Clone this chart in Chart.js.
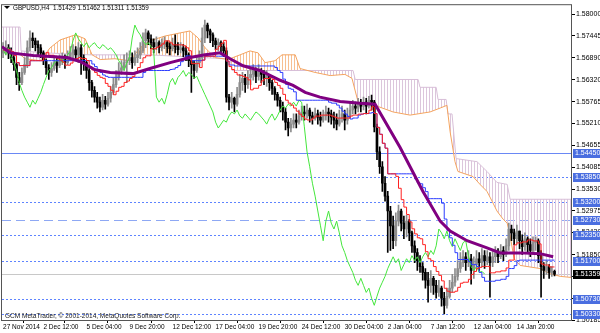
<!DOCTYPE html>
<html>
<head>
<meta charset="utf-8">
<script src="https://cdn.jsdelivr.net/npm/chart.js@4.4.0/dist/chart.umd.min.js"></script>
<style>
  html, body { margin: 0; padding: 0; background: #fff; }
  canvas { display: block; }
</style>
</head>
<body>
<canvas id="chart" width="600" height="333"></canvas>
<script>
// GBPUSD H4 bars, 27 Nov 2014 .. 15 Jan 2015
const firstOpen = 1.5700;
const closes = [
  1.5706,1.5714,1.5701,1.5689,1.5671,1.5638,1.5625,1.5651,1.5671,1.5714,
  1.5739,1.5732,1.5722,1.5714,1.5701,1.5681,1.5663,1.5651,1.5661,1.5676,
  1.5669,1.5681,1.5689,1.5676,1.5691,1.5701,1.5709,1.5696,1.5714,1.5689,
  1.5676,1.5656,1.5625,1.5605,1.5588,1.5575,1.5562,1.5580,1.5570,1.5585,
  1.5600,1.5620,1.5638,1.5656,1.5663,1.5676,1.5681,1.5689,1.5676,1.5689,
  1.5696,1.5706,1.5732,1.5752,1.5737,1.5727,1.5717,1.5727,1.5714,1.5722,
  1.5727,1.5717,1.5712,1.5722,1.5717,1.5709,1.5714,1.5706,1.5696,1.5681,
  1.5671,1.5656,1.5676,1.5689,1.5739,1.5772,1.5757,1.5747,1.5732,1.5722,
  1.5727,1.5717,1.5706,1.5588,1.5575,1.5585,1.5570,1.5595,1.5625,1.5636,
  1.5620,1.5638,1.5646,1.5656,1.5641,1.5651,1.5646,1.5636,1.5641,1.5625,
  1.5610,1.5595,1.5580,1.5565,1.5550,1.5524,1.5509,1.5519,1.5529,1.5524,
  1.5540,1.5550,1.5545,1.5555,1.5540,1.5534,1.5545,1.5537,1.5529,1.5540,
  1.5550,1.5545,1.5537,1.5529,1.5519,1.5534,1.5545,1.5529,1.5540,1.5555,
  1.5565,1.5560,1.5570,1.5565,1.5575,1.5565,1.5580,1.5575,1.5512,1.5448,
  1.5410,1.5368,1.5335,1.5297,1.5259,1.5221,1.5271,1.5297,1.5266,1.5251,
  1.5271,1.5241,1.5208,1.5191,1.5170,1.5155,1.5140,1.5120,1.5107,1.5125,
  1.5107,1.5089,1.5100,1.5074,1.5056,1.5079,1.5100,1.5115,1.5130,1.5150,
  1.5165,1.5180,1.5165,1.5175,1.5145,1.5160,1.5175,1.5165,1.5183,1.5170,
  1.5180,1.5165,1.5180,1.5191,1.5180,1.5196,1.5186,1.5208,1.5251,1.5241,
  1.5226,1.5246,1.5221,1.5206,1.5226,1.5211,1.5196,1.5216,1.5221,1.5183,
  1.5155,1.5145,1.5155,1.5140,1.51429,1.51359
];
const highs = [
  1.5727,1.5732,1.5722,1.5714,1.5696,1.5676,1.5651,1.5663,1.5689,1.5732,
  1.5757,1.5752,1.5739,1.5732,1.5722,1.5706,1.5686,1.5671,1.5676,1.5689,
  1.5689,1.5696,1.5701,1.5696,1.5706,1.5717,1.5722,1.5717,1.5727,1.5722,
  1.5696,1.5681,1.5661,1.5631,1.5615,1.5600,1.5588,1.5595,1.5590,1.5600,
  1.5615,1.5638,1.5656,1.5676,1.5681,1.5696,1.5701,1.5706,1.5701,1.5706,
  1.5714,1.5727,1.5752,1.5762,1.5757,1.5747,1.5737,1.5742,1.5732,1.5737,
  1.5742,1.5732,1.5727,1.5739,1.5747,1.5727,1.5727,1.5722,1.5717,1.5701,
  1.5689,1.5681,1.5691,1.5706,1.5765,1.5785,1.5777,1.5762,1.5752,1.5739,
  1.5737,1.5732,1.5727,1.5714,1.5595,1.5600,1.5588,1.5613,1.5646,1.5651,
  1.5646,1.5656,1.5663,1.5671,1.5663,1.5671,1.5661,1.5656,1.5656,1.5646,
  1.5631,1.5615,1.5600,1.5588,1.5575,1.5560,1.5534,1.5534,1.5545,1.5545,
  1.5555,1.5565,1.5565,1.5570,1.5560,1.5550,1.5560,1.5555,1.5550,1.5555,
  1.5565,1.5560,1.5555,1.5550,1.5545,1.5555,1.5565,1.5555,1.5560,1.5575,
  1.5580,1.5575,1.5585,1.5582,1.5588,1.5585,1.5590,1.5593,1.5580,1.5519,
  1.5461,1.5423,1.5385,1.5347,1.5309,1.5284,1.5292,1.5312,1.5302,1.5284,
  1.5286,1.5276,1.5246,1.5221,1.5201,1.5183,1.5165,1.5150,1.5140,1.5145,
  1.5130,1.5120,1.5120,1.5105,1.5089,1.5100,1.5120,1.5135,1.5150,1.5170,
  1.5191,1.5196,1.5191,1.5196,1.5186,1.5180,1.5196,1.5191,1.5201,1.5196,
  1.5196,1.5191,1.5196,1.5206,1.5201,1.5211,1.5206,1.5226,1.5266,1.5261,
  1.5251,1.5261,1.5246,1.5236,1.5241,1.5231,1.5226,1.5231,1.5231,1.5226,
  1.5196,1.5165,1.5170,1.5160,1.5155,1.51462
];
const lows = [
  1.5689,1.5696,1.5686,1.5676,1.5656,1.5620,1.5605,1.5620,1.5646,1.5663,
  1.5706,1.5714,1.5706,1.5696,1.5689,1.5671,1.5646,1.5633,1.5641,1.5656,
  1.5651,1.5663,1.5671,1.5661,1.5671,1.5681,1.5689,1.5681,1.5676,1.5646,
  1.5656,1.5636,1.5605,1.5588,1.5575,1.5560,1.5550,1.5555,1.5557,1.5565,
  1.5575,1.5595,1.5613,1.5631,1.5646,1.5656,1.5625,1.5671,1.5661,1.5669,
  1.5676,1.5686,1.5701,1.5714,1.5722,1.5712,1.5701,1.5709,1.5701,1.5706,
  1.5712,1.5701,1.5696,1.5706,1.5701,1.5696,1.5701,1.5691,1.5681,1.5666,
  1.5600,1.5636,1.5651,1.5666,1.5681,1.5727,1.5739,1.5727,1.5717,1.5709,
  1.5706,1.5701,1.5691,1.5575,1.5555,1.5560,1.5550,1.5565,1.5588,1.5605,
  1.5600,1.5610,1.5620,1.5631,1.5625,1.5631,1.5625,1.5620,1.5615,1.5605,
  1.5595,1.5580,1.5565,1.5550,1.5529,1.5504,1.5489,1.5499,1.5509,1.5509,
  1.5519,1.5529,1.5529,1.5534,1.5524,1.5519,1.5529,1.5519,1.5514,1.5524,
  1.5529,1.5524,1.5519,1.5509,1.5504,1.5514,1.5524,1.5504,1.5519,1.5534,
  1.5545,1.5545,1.5550,1.5550,1.5555,1.5545,1.5560,1.5555,1.5499,1.5428,
  1.5393,1.5347,1.5322,1.5191,1.5196,1.5201,1.5208,1.5259,1.5246,1.5226,
  1.5231,1.5221,1.5191,1.5165,1.5145,1.5140,1.5120,1.5100,1.5064,1.5089,
  1.5084,1.5074,1.5079,1.5054,1.5034,1.5049,1.5074,1.5089,1.5105,1.5120,
  1.5140,1.5155,1.5145,1.5155,1.5110,1.5125,1.5150,1.5145,1.5155,1.5150,
  1.5160,1.5077,1.5155,1.5165,1.5165,1.5175,1.5170,1.5180,1.5196,1.5221,
  1.5211,1.5216,1.5201,1.5186,1.5196,1.5191,1.5180,1.5186,1.5196,1.5165,
  1.5077,1.5125,1.5135,1.5125,1.5130,1.51311
];

// cloud borders and the moving average, [bar, price] as seen on the chart
const senkouA = [
  [-0.4,1.5706],[5.6,1.5701],[8.2,1.5686],[13.8,1.5681],[17.5,1.5714],[21.2,1.5734],
  [26.8,1.5747],[30.5,1.5737],[33.1,1.5696],[36.1,1.5684],[41.6,1.5686],[47.2,1.5681],
  [50.9,1.5714],[54.6,1.5732],[60.2,1.5744],[65.8,1.5752],[69.5,1.5757],[72.5,1.5739],
  [75.1,1.5714],[78.8,1.5689],[83.6,1.5684],[88.1,1.5696],[91.8,1.5706],[94.8,1.5701],
  [97.4,1.5676],[101.1,1.5681],[103.7,1.5696],[108.6,1.5696],[110.4,1.5661],[116,1.5651],
  [121.6,1.5643],[127.1,1.5646],[129.7,1.5636],[132,1.5575],[139,1.5565],[145,1.5550],
  [151.3,1.5542],[158.7,1.5550],[162.5,1.5560],[165,1.5567],[166.2,1.5499],[168,1.5423],
  [169.1,1.5398],[174.7,1.5385],[177.3,1.5365],[179.9,1.5347],[181.8,1.5322],[183.6,1.5297],
  [185.9,1.5276],[187.4,1.5266],[188.5,1.5233],[190,1.5175],[192.2,1.5158],[199.6,1.5150],
  [203.3,1.5137],[207.1,1.5130],[211.5,1.5127]
];
const senkouB = [
  [-0.4,1.5767],[6.3,1.5767],[6.7,1.5706],[15.6,1.5701],[32.3,1.5696],[54.6,1.5696],
  [73.2,1.5689],[84.4,1.5686],[85.1,1.5656],[130.1,1.5656],[130.9,1.5633],[154.3,1.5633],
  [155,1.5613],[161,1.5613],[161.7,1.5582],[164.7,1.5582],[165.4,1.5545],[166.9,1.5545],
  [168.4,1.5431],[176.2,1.5423],[179.9,1.5398],[183.6,1.5370],[187.4,1.5365],[188.5,1.5327],
  [211.5,1.5327]
];
const maLine = [
  [-0.4,1.5717],[2.6,1.5701],[11.2,1.5694],[23.8,1.5689],[28.6,1.5679],[34.2,1.5658],
  [39.8,1.5651],[48.3,1.5648],[54.6,1.5661],[62.1,1.5676],[69.5,1.5689],[75.1,1.5696],
  [80.7,1.5701],[84.4,1.5686],[89.2,1.5668],[95.5,1.5656],[103,1.5631],[107.8,1.5618],
  [112.3,1.5600],[117.8,1.5588],[125.3,1.5577],[132.7,1.5572],[138.3,1.5570],[147.6,1.5459],
  [156.1,1.5347],[162.5,1.5271],[166.2,1.5246],[172.5,1.5221],[179.9,1.5203],[184.8,1.5190],
  [192.2,1.5190],[199.6,1.5188],[204.5,1.5180]
];

const timeTickBars = [0, 15, 31, 47, 63, 79, 95, 111, 127, 143, 159, 175, 191];
const timeLabels = ['27 Nov 2014', '2 Dec 12:00', '5 Dec 04:00', '9 Dec 20:00', '12 Dec 12:00',
  '17 Dec 04:00', '19 Dec 20:00', '24 Dec 12:00', '30 Dec 04:00', '2 Jan 04:00',
  '7 Jan 12:00', '12 Jan 04:00', '14 Jan 20:00'];
const priceTicks = [1.58000, 1.57445, 1.56890, 1.56320, 1.55765, 1.55210, 1.54655, 1.54085,
  1.53530, 1.52975, 1.52420, 1.51850, 1.51295, 1.50740, 1.50185];

const levelSolid = [1.54450];
const levelDotted = [1.53850, 1.53200, 1.52350, 1.51700, 1.50730, 1.50330];
const levelDashed = [1.52730];
const bidPrice = 1.51359;
const header = 'GBPUSD,H4  1.51429 1.51462 1.51311 1.51359';
const copyright = 'GCM MetaTrader, \u00a9 2001-2014, MetaQuotes Software Corp.';

const opens = closes.map((c, i) => i === 0 ? firstOpen : closes[i - 1]);
const BULL = '#8c8c8c', BEAR = '#000000';
const candleColor = closes.map((c, i) => c >= opens[i] ? BULL : BEAR);

function midline(period) {
  return closes.map((c, i) => {
    const from = Math.max(0, i - period + 1);
    const hh = Math.max(...highs.slice(from, i + 1));
    const ll = Math.min(...lows.slice(from, i + 1));
    return { x: i, y: (hh + ll) / 2 };
  });
}
const tenkan = midline(9);
const kijun = midline(26);
const chikou = closes.slice(26).map((c, i) => ({ x: i, y: c }));
const pts = arr => arr.map(p => ({ x: p[0], y: p[1] }));

function hatch(color) {
  const c = document.createElement('canvas');
  c.width = 3; c.height = 1;
  const g = c.getContext('2d');
  g.fillStyle = color;
  g.fillRect(0, 0, 1, 1);
  return g.createPattern(c, 'repeat');
}

const FONT = 'Liberation Sans';
Chart.defaults.font.family = FONT;
Chart.defaults.font.size = 7;
Chart.defaults.color = '#000';

const decor = {
  id: 'decor',
  beforeDatasetsDraw(chart) {
    const { ctx, chartArea: a, scales: { y } } = chart;
    ctx.save();
    // on/off lengths in pixels, drawn as crisp 1px rectangles
    const hline = (v, color, on, off) => {
      const py = Math.round(y.getPixelForValue(v));
      ctx.fillStyle = color;
      for (let x = a.left; x < a.right; x += on + off) {
        ctx.fillRect(x, py, Math.min(on, a.right - x), 1);
      }
    };
    const W = a.right - a.left;
    hline(bidPrice, '#c8c8c8', W, 0);
    levelSolid.forEach(v => hline(v, '#6a88f5', W, 0));
    levelDotted.forEach(v => hline(v, '#5f84ff', 2, 2));
    levelDashed.forEach(v => hline(v, '#8ea8f4', 9, 5));
    ctx.restore();
  },
  afterDraw(chart) {
    const { ctx, chartArea: a, scales: { y } } = chart;
    ctx.save();
    ctx.strokeStyle = '#555';
    ctx.lineWidth = 1;
    ctx.setLineDash([]);
    ctx.strokeRect(a.left - 0.5, a.top - 0.5, a.right - a.left, a.bottom - a.top + 1);

    ctx.font = '7px "' + FONT + '"';
    ctx.textBaseline = 'middle';
    const box = (v, fill) => {
      const py = Math.round(y.getPixelForValue(v));
      ctx.fillStyle = fill;
      ctx.fillRect(a.right + 1, py - 4, 600 - a.right - 1, 9);
      ctx.fillStyle = '#fff';
      ctx.fillText(v.toFixed(5), a.right + 3, py + 0.5);
    };
    [...levelSolid, ...levelDotted, ...levelDashed].forEach(v => box(v, '#4a6ee0'));
    box(bidPrice, '#000');

    ctx.fillStyle = '#000';
    ctx.beginPath();
    ctx.moveTo(4, 6); ctx.lineTo(10, 6); ctx.lineTo(7, 9); ctx.closePath();
    ctx.fill();
    ctx.font = '6.3px "' + FONT + '"';
    ctx.fillText(header, 13, 8);
    ctx.fillStyle = '#222';
    ctx.font = '6.5px "' + FONT + '"';
    ctx.fillText(copyright, 5, 316);
    ctx.restore();
  }
};

new Chart(document.getElementById('chart'), {
  data: {
    datasets: [
      {
        type: 'line', label: 'Senkou B', data: pts(senkouB), order: 20,
        borderColor: '#d8bfd8', borderWidth: 1, pointRadius: 0,
        fill: { target: 1, above: hatch('#dcc6dc'), below: hatch('#f7bf92') }
      },
      {
        type: 'line', label: 'Senkou A', data: pts(senkouA), order: 19,
        borderColor: '#f4a460', borderWidth: 1, pointRadius: 0, fill: false
      },
      {
        type: 'bar', label: 'wick', order: 12, grouped: false,
        data: closes.map((c, i) => ({ x: i, y: [lows[i], highs[i]] })),
        backgroundColor: candleColor, barThickness: 1, minBarLength: 1
      },
      {
        type: 'bar', label: 'body', order: 11, grouped: false,
        data: closes.map((c, i) => ({ x: i, y: [opens[i], c] })),
        backgroundColor: candleColor, barThickness: 2, minBarLength: 1
      },
      {
        type: 'line', label: 'Chikou', data: chikou, order: 6,
        borderColor: '#44e63c', borderWidth: 1, pointRadius: 0
      },
      {
        type: 'line', label: 'Kijun', data: kijun, order: 5, stepped: true,
        borderColor: '#2b3cff', borderWidth: 1, pointRadius: 0
      },
      {
        type: 'line', label: 'Tenkan', data: tenkan, order: 4, stepped: true,
        borderColor: '#ff2020', borderWidth: 1, pointRadius: 0
      },
      {
        type: 'line', label: 'MA', data: pts(maLine), order: 1,
        borderColor: '#800080', borderWidth: 3, pointRadius: 0
      }
    ]
  },
  options: {
    responsive: false,
    animation: false,
    devicePixelRatio: 1,
    layout: { padding: { top: 2, left: 2, right: 0, bottom: 0 } },
    plugins: { legend: { display: false }, tooltip: { enabled: false } },
    scales: {
      x: {
        type: 'linear', min: -0.4, max: 211.5, offset: false,
        afterBuildTicks: s => { s.ticks = timeTickBars.map(v => ({ value: v })); },
        afterFit: s => { s.height = 13; },
        ticks: {
          autoSkip: false, maxRotation: 0, align: 'start', padding: 0,
          font: { size: 6.5 },
          callback: v => timeLabels[timeTickBars.indexOf(v)] || ''
        },
        grid: { drawOnChartArea: false, tickLength: 3, color: '#000' },
        border: { display: false }
      },
      y: {
        type: 'linear', position: 'right', min: 1.50185, max: 1.58228,
        afterBuildTicks: s => { s.ticks = priceTicks.map(v => ({ value: v })); },
        afterFit: s => { s.width = 28; },
        ticks: { autoSkip: false, padding: 1, callback: v => v.toFixed(5) },
        grid: { drawOnChartArea: false, tickLength: 3, color: '#000' },
        border: { display: false }
      }
    }
  },
  plugins: [decor]
});
</script>
</body>
</html>
